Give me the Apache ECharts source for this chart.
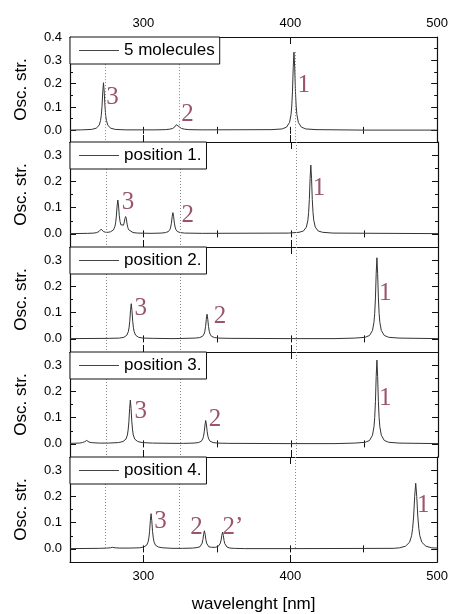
<!DOCTYPE html>
<html>
<head>
<meta charset="utf-8">
<script src="https://cdn.jsdelivr.net/npm/echarts@6/dist/echarts.min.js"></script>
<style>
  html, body { margin: 0; padding: 0; background: #fff; }
  #chart { width: 451px; height: 614px; }
</style>
</head>
<body>
<div id="chart"></div>
<script>
// Simulated absorption spectra: [wavelength (nm), oscillator strength]
const mol5 = [
  [250,0.001],[257.8,0.002],[264.8,0.004],[267.8,0.009],[269.8,0.021],[270.8,0.042],[271.3,0.064],[271.8,0.103],[272.3,0.164],[272.8,0.204],[273.3,0.164],[273.8,0.103],[274.3,0.064],[274.8,0.042],[275.8,0.021],[277.8,0.009],[280.8,0.004],[288,0.002],
  [307.9,0.002],[314.9,0.003],[317.9,0.005],[319.9,0.008],[321.4,0.015],[322.4,0.024],[322.9,0.029],[323.4,0.024],[324.4,0.015],[325.9,0.008],[327.9,0.005],[330.9,0.003],[340,0.002],
  [387.5,0.003],[394.5,0.006],[397.5,0.014],[399.5,0.034],[400.5,0.067],[401,0.104],[401.5,0.168],[402,0.268],[402.5,0.335],[403,0.268],[403.5,0.168],[404,0.104],[404.5,0.067],[405.5,0.034],[407.5,0.014],[410.5,0.006],[417.5,0.003],[450,0.001],[500,0.001]
];
const pos1 = [
  [250,0.001],[262,0.002],[266.2,0.003],[268.2,0.005],[269.7,0.009],[270.7,0.015],[271.2,0.018],[271.7,0.015],[272.7,0.009],[274.2,0.006],[276,0.006],[277.5,0.008],[279.5,0.015],[280.5,0.028],[281,0.042],[281.5,0.068],[282,0.106],[282.5,0.129],[283,0.106],[283.5,0.069],[284,0.047],[284.5,0.035],[285.5,0.03],[286.3,0.033],[286.8,0.042],[287.3,0.058],[287.8,0.066],[288.3,0.057],[288.8,0.037],[289.3,0.024],[289.8,0.016],[290.8,0.009],[292.8,0.005],[296,0.003],[305,0.002],
  [311.9,0.003],[314.9,0.005],[316.9,0.009],[317.9,0.017],[318.4,0.026],[318.9,0.041],[319.4,0.065],[319.9,0.081],[320.4,0.065],[320.9,0.041],[321.4,0.026],[321.9,0.017],[322.9,0.009],[324.9,0.005],[327.9,0.003],[340,0.002],
  [398.6,0.003],[405.6,0.006],[408.6,0.011],[410.6,0.026],[411.6,0.052],[412.1,0.081],[412.6,0.131],[413.1,0.21],[413.6,0.262],[414.1,0.21],[414.6,0.131],[415.1,0.081],[415.6,0.052],[416.6,0.026],[418.6,0.011],[421.6,0.006],[428.6,0.003],[500,0.001]
];
const pos2 = [
  [250,0.001],[276.6,0.002],[283.6,0.003],[286.6,0.006],[288.6,0.014],[289.6,0.027],[290.1,0.042],[290.6,0.067],[291.1,0.107],[291.6,0.134],[292.1,0.107],[292.6,0.067],[293.1,0.042],[293.6,0.027],[294.6,0.014],[296.6,0.006],[299.6,0.003],[306.6,0.002],[320,0.001],
  [328.1,0.002],[335.1,0.003],[338.1,0.005],[340.1,0.010],[341.1,0.019],[341.6,0.029],[342.1,0.047],[342.6,0.075],[343.1,0.094],[343.6,0.075],[344.1,0.047],[344.6,0.029],[345.1,0.019],[346.1,0.010],[348.1,0.005],[351.1,0.003],[358.1,0.002],[400,0.001],
  [430,0.001],[443.5,0.003],[450.5,0.006],[453.5,0.013],[455.5,0.032],[456.5,0.063],[457,0.097],[457.5,0.156],[458,0.248],[458.5,0.309],[459,0.248],[459.5,0.156],[460,0.097],[460.5,0.063],[461.5,0.032],[463.5,0.013],[466.5,0.006],[473.5,0.003],[500,0.001]
];
const pos3 = [
  [250,0.002],[256.4,0.003],[258.4,0.005],[259.9,0.008],[260.9,0.011],[261.4,0.013],[261.9,0.011],[262.9,0.007],[264.4,0.005],[266.4,0.004],[270,0.003],[276,0.003],[283,0.005],[286,0.009],[288,0.018],[289,0.034],[289.5,0.053],[290,0.084],[290.5,0.134],[291,0.167],[291.5,0.134],[292,0.084],[292.5,0.053],[293,0.034],[294,0.018],[296,0.009],[299,0.005],[306,0.003],[320,0.002],
  [327.2,0.002],[334.2,0.003],[337.2,0.005],[339.2,0.010],[340.2,0.019],[340.7,0.029],[341.2,0.046],[341.7,0.072],[342.2,0.089],[342.7,0.072],[343.2,0.046],[343.7,0.029],[344.2,0.019],[345.2,0.010],[347.2,0.005],[350.2,0.003],[357.2,0.002],[400,0.001],
  [430,0.001],[443.5,0.003],[450.5,0.006],[453.5,0.013],[455.5,0.033],[456.5,0.065],[457,0.1],[457.5,0.161],[458,0.256],[458.5,0.319],[459,0.256],[459.5,0.161],[460,0.1],[460.5,0.065],[461.5,0.033],[463.5,0.013],[466.5,0.006],[473.5,0.003],[500,0.001]
];
const pos4 = [
  [250,0.001],[270,0.002],[275,0.003],[277.5,0.004],[279.1,0.006],[280.7,0.004],[284,0.003],[290.2,0.003],[297.2,0.004],[300.2,0.007],[302.2,0.014],[303.2,0.027],[303.7,0.042],[304.2,0.067],[304.7,0.107],[305.2,0.134],[305.7,0.107],[306.2,0.067],[306.7,0.042],[307.2,0.027],[308.2,0.014],[310.2,0.007],[313.2,0.004],[320.2,0.002],
  [326.5,0.002],[333.5,0.003],[336.5,0.005],[338.5,0.008],[339.5,0.015],[340,0.022],[340.5,0.036],[341,0.056],[341.5,0.069],[342,0.056],[342.5,0.036],[343,0.022],[343.5,0.015],[344.5,0.008],[346.5,0.006],[348.9,0.006],[350.9,0.009],[351.9,0.015],[352.4,0.022],[352.9,0.034],[353.4,0.052],[353.9,0.064],[354.4,0.051],[354.9,0.032],[355.4,0.020],[355.9,0.013],[356.9,0.007],[358.9,0.003],[361.9,0.002],[368.9,0.001],[400,0.001],
  [470,0.002],[474.4,0.004],[478.4,0.01],[481.2,0.025],[482.6,0.05],[483.3,0.078],[484,0.125],[484.7,0.2],[485.4,0.25],[486.1,0.2],[486.8,0.125],[487.5,0.078],[488.2,0.05],[489.6,0.025],[492.4,0.01],[496.4,0.004],[500,0.003]
];

// Band tags: [text, wavelength, oscillator strength] where each tag sits
const tagsMol5 = [['3',279.0,0.143],['2',330.0,0.070],['1',409.2,0.191]];
const tagsPos1 = [['3',289.4,0.119],['2',330.0,0.072],['1',419.2,0.174]];
const tagsPos2 = [['3',298.0,0.117],['2',351.9,0.087],['1',464.2,0.174]];
const tagsPos3 = [['3',298.0,0.123],['2',348.5,0.095],['1',464.2,0.174]];
const tagsPos4 = [['3',311.6,0.104],['2',336.1,0.082],['2\u2019',360.9,0.082],['1',490.5,0.167]];

const panelNames = ['5 molecules', 'position 1.', 'position 2.', 'position 3.', 'position 4.'];
const spectra = [mol5, pos1, pos2, pos3, pos4];
const tags = [tagsMol5, tagsPos1, tagsPos2, tagsPos3, tagsPos4];

const xMin = 250, xMax = 500;
const xTickLabels = [300, 400, 500];
const xMajorTicks = [300, 400];
const yMin = -0.05;
const yMaxes = [0.4, 0.35, 0.35, 0.35, 0.35];
const yTickLabelsTop = [0, 0.1, 0.2, 0.3, 0.4];
const yTickLabels = [0, 0.1, 0.2, 0.3];
// Reference wavelengths of the 5-molecule bands, carried down through all panels
const guideWavelengths = [274.3, 324.6, 403.4];
const guideSpans = [[0.335, yMin], [0.35, yMin], [0.35, yMin], [0.35, yMin], [0.35, 0]];

const FONT = 'Liberation Sans, Arial, sans-serif';
const TAG_COLOR = '#80294a';
const LINE_COLOR = '#333';
const PANEL_TOPS = [37, 142, 247, 352, 457];
const PANEL_H = 105;

const grids = [], xAxes = [], yAxes = [], series = [], legends = [];

PANEL_TOPS.forEach((top, i) => {
  grids.push({ left: 70, right: 13, top: top, height: PANEL_H, containLabel: false });
  const lineCommon = { show: true, onZero: false, lineStyle: { color: '#111', width: 1.2 } };
  const hidden = { show: false };

  // x axes: bottom major, bottom minor, top major, top minor
  const xBase = { type: 'value', gridIndex: i, min: xMin, max: xMax, splitLine: hidden };
  xAxes.push(Object.assign({}, xBase, {
    position: 'bottom',
    axisLine: lineCommon,
    axisTick: { inside: true, length: 7, customValues: xMajorTicks, lineStyle: { color: '#111' } },
    axisLabel: i === 4
      ? { show: true, customValues: xTickLabels, margin: 8, fontSize: 13, fontFamily: FONT, color: '#000' }
      : hidden,
    name: i === 4 ? 'wavelenght [nm]' : '',
    nameLocation: 'middle', nameGap: 34,
    nameTextStyle: { fontSize: 17, fontFamily: FONT, color: '#000' }
  }));
  xAxes.push(Object.assign({}, xBase, {
    position: 'bottom', interval: 50,
    axisLine: hidden, axisLabel: hidden,
    axisTick: { inside: true, length: 3.5, lineStyle: { color: '#111' } }
  }));
  xAxes.push(Object.assign({}, xBase, {
    position: 'top',
    axisLine: lineCommon,
    axisTick: { inside: true, length: 7, customValues: xMajorTicks, lineStyle: { color: '#111' } },
    axisLabel: i === 0
      ? { show: true, customValues: xTickLabels, margin: 7, fontSize: 13, fontFamily: FONT, color: '#000' }
      : hidden
  }));
  xAxes.push(Object.assign({}, xBase, {
    position: 'top', interval: 50,
    axisLine: hidden, axisLabel: hidden,
    axisTick: { inside: true, length: 3.5, lineStyle: { color: '#111' } }
  }));

  // y axes: left major, left minor, right major, right minor
  const majors = i === 0 ? yTickLabelsTop : yTickLabels;
  const yBase = { type: 'value', gridIndex: i, min: yMin, max: yMaxes[i], splitLine: hidden };
  yAxes.push(Object.assign({}, yBase, {
    position: 'left',
    axisLine: lineCommon,
    axisTick: { inside: true, length: 6, customValues: majors, lineStyle: { color: '#111' } },
    axisLabel: { show: true, customValues: majors, margin: 8, fontSize: 13, fontFamily: FONT, color: '#000',
                 formatter: v => Number(v).toFixed(1) },
    name: 'Osc. str.', nameLocation: 'middle', nameGap: 40, nameRotate: 90,
    nameTextStyle: { fontSize: 17, fontFamily: FONT, color: '#000' }
  }));
  yAxes.push(Object.assign({}, yBase, {
    position: 'left', interval: 0.05,
    axisLine: hidden, axisLabel: hidden,
    axisTick: { inside: true, length: 3, lineStyle: { color: '#111' } }
  }));
  yAxes.push(Object.assign({}, yBase, {
    position: 'right',
    axisLine: lineCommon,
    axisTick: { inside: true, length: 6, customValues: majors, lineStyle: { color: '#111' } },
    axisLabel: hidden
  }));
  yAxes.push(Object.assign({}, yBase, {
    position: 'right', interval: 0.05,
    axisLine: hidden, axisLabel: hidden,
    axisTick: { inside: true, length: 3, lineStyle: { color: '#111' } }
  }));

  const span = guideSpans[i];
  series.push({
    name: panelNames[i],
    type: 'line',
    xAxisIndex: i * 4, yAxisIndex: i * 4,
    data: spectra[i],
    symbol: 'none', showSymbol: false,
    lineStyle: { color: LINE_COLOR, width: 1 },
    itemStyle: { color: LINE_COLOR },
    animation: false,
    z: 3,
    markLine: {
      silent: true, symbol: 'none', animation: false,
      label: { show: false },
      lineStyle: { color: '#888', type: [1, 2], width: 1 },
      data: guideWavelengths.map(w => [{ coord: [w, span[0]] }, { coord: [w, span[1]] }])
    }
  });
  series.push({
    name: 'tags' + i,
    type: 'scatter',
    xAxisIndex: i * 4, yAxisIndex: i * 4,
    symbolSize: 0,
    animation: false,
    silent: true,
    z: 4,
    data: tags[i].map(t => ({ name: t[0], value: [t[1], t[2]] })),
    label: {
      show: true, position: 'inside', formatter: p => p.name,
      fontFamily: 'Liberation Serif, Times New Roman, serif', fontSize: 25, color: TAG_COLOR
    }
  });

  legends.push({
    data: [panelNames[i]],
    left: 70, top: top,
    orient: 'horizontal',
    backgroundColor: '#fff',
    borderColor: '#111', borderWidth: 1,
    padding: [5, 5, 5, 9],
    icon: 'rect',
    itemWidth: 40, itemHeight: 1, itemGap: 5,
    itemStyle: { color: '#444', borderWidth: 0 },
    selectedMode: false,
    textStyle: { fontSize: 17, fontFamily: FONT, color: '#000' },
    z: 10
  });
});

const chart = echarts.init(document.getElementById('chart'), null, { renderer: 'canvas' });
chart.setOption({
  backgroundColor: '#fff',
  animation: false,
  grid: grids,
  xAxis: xAxes,
  yAxis: yAxes,
  legend: legends,
  series: series
});
</script>
</body>
</html>
